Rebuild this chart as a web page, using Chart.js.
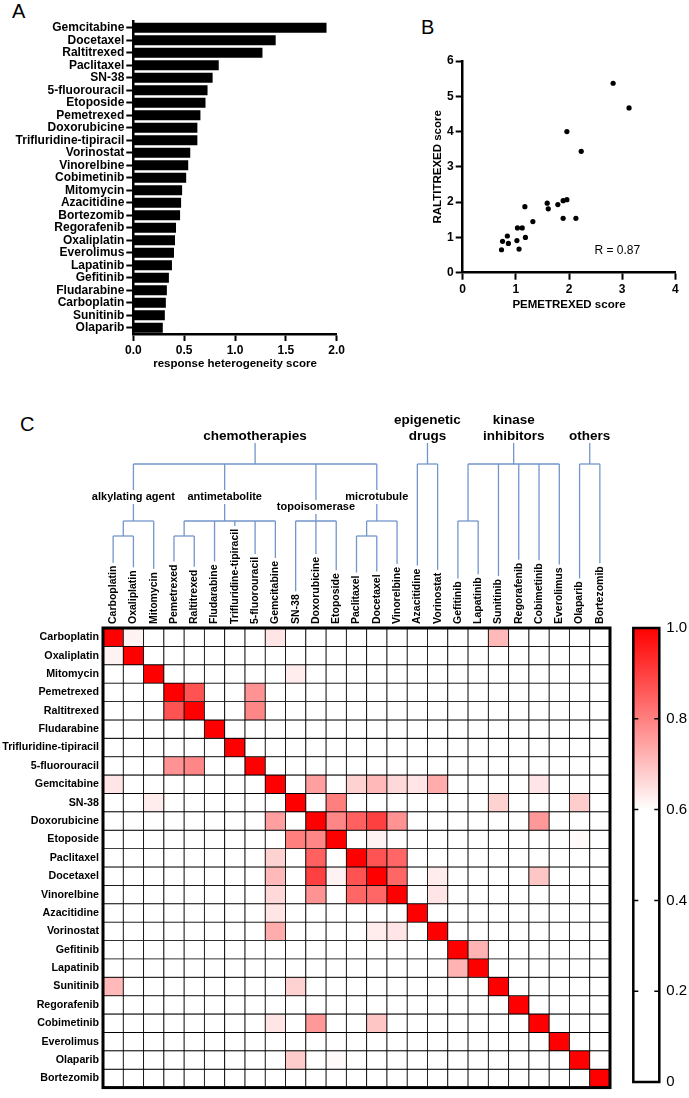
<!DOCTYPE html>
<html>
<head>
<meta charset="utf-8">
<script src="https://cdn.jsdelivr.net/npm/chart.js@4.4.1/dist/chart.umd.min.js"></script>
<style>
  body { margin: 0; background: #fff; }
  #page { position: relative; width: 689px; height: 1098px; overflow: hidden; font-family: "Liberation Sans", Arial, sans-serif; }
  canvas { position: absolute; }
  .letter { position: absolute; font-size: 20px; line-height: 20px; color: #000; }
</style>
</head>
<body>
<div id="page">
  <div class="letter" style="left:12px;top:1px">A</div>
  <div class="letter" style="left:421px;top:17px">B</div>
  <div class="letter" style="left:20px;top:414px">C</div>
  <canvas id="bars" width="360" height="380" style="left:0;top:0"></canvas>
  <canvas id="scatter" width="309" height="330" style="left:380px;top:0"></canvas>
  <canvas id="heat" width="689" height="718" style="left:0;top:380px"></canvas>
  <canvas id="cbar" width="89" height="498" style="left:600px;top:600px"></canvas>
</div>
<script>
// A : score d'hétérogénéité par drogue
const barDrugs = ['Gemcitabine', 'Docetaxel', 'Raltitrexed', 'Paclitaxel', 'SN-38', '5-fluorouracil',
  'Etoposide', 'Pemetrexed', 'Doxorubicine', 'Trifluridine-tipiracil', 'Vorinostat', 'Vinorelbine',
  'Cobimetinib', 'Mitomycin', 'Azacitidine', 'Bortezomib', 'Regorafenib', 'Oxaliplatin', 'Everolimus',
  'Lapatinib', 'Gefitinib', 'Fludarabine', 'Carboplatin', 'Sunitinib', 'Olaparib'];
const barScores = [1.90, 1.40, 1.27, 0.84, 0.78, 0.73, 0.71, 0.66, 0.63, 0.63, 0.56, 0.54,
  0.52, 0.48, 0.47, 0.46, 0.42, 0.41, 0.40, 0.38, 0.35, 0.33, 0.32, 0.31, 0.29];

// B : pemetrexed vs raltitrexed
const pemetrexedScores = [2.83, 3.13, 1.96, 2.23, 1.96, 1.89, 1.79, 1.59, 1.61, 1.89, 2.13,
  1.17, 1.32, 1.03, 1.12, 1.18, 1.02, 0.84, 0.75, 0.86, 0.73, 1.06];
const raltitrexedScores = [5.37, 4.67, 4.00, 3.44, 2.07, 2.04, 1.93, 1.97, 1.81, 1.54, 1.54,
  1.87, 1.45, 1.27, 1.27, 1.00, 0.91, 1.04, 0.89, 0.83, 0.65, 0.67];
const rLabel = 'R = 0.87';

// C : matrice de corrélation
const heatDrugs = ['Carboplatin', 'Oxaliplatin', 'Mitomycin', 'Pemetrexed', 'Raltitrexed', 'Fludarabine',
  'Trifluridine-tipiracil', '5-fluorouracil', 'Gemcitabine', 'SN-38', 'Doxorubicine', 'Etoposide',
  'Paclitaxel', 'Docetaxel', 'Vinorelbine', 'Azacitidine', 'Vorinostat', 'Gefitinib', 'Lapatinib',
  'Sunitinib', 'Regorafenib', 'Cobimetinib', 'Everolimus', 'Olaparib', 'Bortezomib'];
// paires au-dessus de 0.6 (le reste est blanc), diagonale = 1
const corrPairs = [
  ['Carboplatin', 'Oxaliplatin', 0.62], ['Carboplatin', 'Gemcitabine', 0.64], ['Carboplatin', 'Sunitinib', 0.71],
  ['Mitomycin', 'SN-38', 0.63],
  ['Pemetrexed', 'Raltitrexed', 0.87], ['Pemetrexed', '5-fluorouracil', 0.77], ['Raltitrexed', '5-fluorouracil', 0.79],
  ['Gemcitabine', 'Doxorubicine', 0.75], ['Gemcitabine', 'Paclitaxel', 0.67], ['Gemcitabine', 'Docetaxel', 0.71],
  ['Gemcitabine', 'Vinorelbine', 0.66], ['Gemcitabine', 'Azacitidine', 0.64], ['Gemcitabine', 'Vorinostat', 0.73],
  ['Gemcitabine', 'Cobimetinib', 0.64],
  ['SN-38', 'Etoposide', 0.80], ['SN-38', 'Sunitinib', 0.67], ['SN-38', 'Olaparib', 0.68],
  ['Doxorubicine', 'Etoposide', 0.79], ['Doxorubicine', 'Paclitaxel', 0.85], ['Doxorubicine', 'Docetaxel', 0.90],
  ['Doxorubicine', 'Vinorelbine', 0.77], ['Doxorubicine', 'Cobimetinib', 0.76],
  ['Etoposide', 'Docetaxel', 0.62], ['Etoposide', 'Olaparib', 0.61],
  ['Paclitaxel', 'Docetaxel', 0.87], ['Paclitaxel', 'Vinorelbine', 0.84], ['Docetaxel', 'Vinorelbine', 0.84],
  ['Docetaxel', 'Vorinostat', 0.63], ['Docetaxel', 'Cobimetinib', 0.69], ['Vinorelbine', 'Vorinostat', 0.64],
  ['Gefitinib', 'Lapatinib', 0.72],
];
const colorTicks = [0, 0.2, 0.4, 0.6, 0.8, 1];
const colorFloor = 0.6;

// classes de drogues (dendrogramme)
const drugClasses = [
  { name: ['chemotherapies'], children: [
    { name: ['alkylating agent'], children: [['Carboplatin', 'Oxaliplatin'], 'Mitomycin'] },
    { name: ['antimetabolite'], children: [['Pemetrexed', 'Raltitrexed'], 'Fludarabine', 'Trifluridine-tipiracil', '5-fluorouracil', 'Gemcitabine'] },
    { name: ['topoisomerase'], children: ['SN-38', 'Doxorubicine', 'Etoposide'] },
    { name: ['microtubule'], children: [['Paclitaxel', 'Docetaxel'], 'Vinorelbine'] },
  ] },
  { name: ['epigenetic', 'drugs'], children: ['Azacitidine', 'Vorinostat'] },
  { name: ['kinase', 'inhibitors'], children: [['Gefitinib', 'Lapatinib'], 'Sunitinib', 'Regorafenib', 'Cobimetinib', 'Everolimus'] },
  { name: ['others'], children: ['Olaparib', 'Bortezomib'] },
];
// mise en page du dendrogramme (px au-dessus de la matrice)
const levelOffset = [-164, -107, -92];
const topLabelOffset = -192;
const subLabelAt = { 'alkylating agent': 1, 'antimetabolite': 5.5, 'topoisomerase': 10, 'microtubule': 13 };
const subLabelOffset = { 'topoisomerase': -121 };

const FONT = '"Liberation Sans", Arial, sans-serif';
Chart.defaults.font.family = FONT;
Chart.defaults.color = '#000';
Chart.defaults.animation = false;
Chart.defaults.plugins.legend.display = false;
Chart.defaults.plugins.tooltip.enabled = false;

const axisLine = { display: true, color: '#000', width: 2.5 };
const tickMarks = { display: true, drawOnChartArea: false, drawTicks: true, tickLength: 7, tickWidth: 2, tickColor: '#000', offset: false };
const noGrid = { display: false, drawTicks: false, tickLength: 0 };
const boldFont = size => ({ size: size, weight: 'bold' });

// ---- A
new Chart(document.getElementById('bars'), {
  type: 'bar',
  data: { labels: barDrugs, datasets: [{ data: barScores, backgroundColor: '#000', barPercentage: 0.8, categoryPercentage: 1 }] },
  options: {
    responsive: false,
    indexAxis: 'y',
    layout: { padding: { top: 21.5, right: 23.3, bottom: 9, left: 0 } },
    scales: {
      x: {
        min: 0, max: 2, border: axisLine, grid: tickMarks,
        ticks: { stepSize: 0.5, padding: 2, font: boldFont(12), callback: v => v.toFixed(1) },
        title: { display: true, text: 'response heterogeneity score', font: boldFont(11.5), padding: 0 },
        afterFit: s => { s.height = 37; }
      },
      y: {
        border: axisLine, grid: tickMarks,
        ticks: { autoSkip: false, padding: 2, font: boldFont(12) },
        afterFit: s => { s.width = 133.3; }
      }
    }
  }
});

// ---- B
const rText = {
  id: 'rText',
  afterDraw(chart) {
    const { ctx, scales: { x, y } } = chart;
    ctx.save();
    ctx.font = '12px ' + FONT;
    ctx.fillStyle = '#000';
    ctx.textAlign = 'center';
    ctx.textBaseline = 'middle';
    ctx.fillText(rLabel, x.getPixelForValue(2.91), y.getPixelForValue(0.62));
    ctx.restore();
  }
};
new Chart(document.getElementById('scatter'), {
  type: 'scatter',
  data: { datasets: [{ data: pemetrexedScores.map((v, i) => ({ x: v, y: raltitrexedScores[i] })), backgroundColor: '#000', borderWidth: 0, pointRadius: 2.6 }] },
  options: {
    responsive: false,
    layout: { padding: { top: 61, right: 13.7, bottom: 18, left: 51.1 } },
    scales: {
      x: {
        min: 0, max: 4, border: axisLine, grid: tickMarks,
        ticks: { stepSize: 1, padding: 3, font: boldFont(12) },
        title: { display: true, text: 'PEMETREXED score', font: boldFont(11.5), padding: 0 },
        afterFit: s => { s.height = 39.3; }
      },
      y: {
        min: 0, max: 6, border: axisLine, grid: tickMarks,
        ticks: { stepSize: 1, padding: 2, font: boldFont(12) },
        title: { display: true, text: 'RALTITREXED score', font: boldFont(11.5), padding: 0 },
        afterFit: s => { s.width = 31.6; }
      }
    }
  },
  plugins: [rText]
});

// ---- C
const corr = heatDrugs.map((a, i) => heatDrugs.map((b, j) => (i === j ? 1 : 0)));
corrPairs.forEach(([a, b, v]) => {
  const i = heatDrugs.indexOf(a), j = heatDrugs.indexOf(b);
  corr[i][j] = v;
  corr[j][i] = v;
});
function cellColor(v) {
  const t = Math.max(0, Math.min(1, (v - colorFloor) / (1 - colorFloor)));
  const gb = Math.round(255 * (1 - t));
  return 'rgb(255,' + gb + ',' + gb + ')';
}

const colFontSize = 10.5;
const colPadding = 4;

const heatExtras = {
  id: 'heatExtras',
  afterDatasetsDraw(chart) {
    const { ctx, chartArea: a } = chart;
    ctx.save();
    ctx.strokeStyle = '#000';
    ctx.lineWidth = 3;
    ctx.strokeRect(a.left, a.top, a.right - a.left, a.bottom - a.top);
    ctx.restore();
  },
  afterDraw(chart) {
    const { ctx, chartArea, scales: { x } } = chart;
    const top = chartArea.top;
    const leafFont = 'bold ' + colFontSize + 'px ' + FONT;
    ctx.save();
    ctx.strokeStyle = '#7395cc';
    ctx.lineWidth = 1.3;
    ctx.fillStyle = '#000';
    ctx.textAlign = 'center';
    ctx.textBaseline = 'middle';
    const line = (x1, y1, x2, y2) => { ctx.beginPath(); ctx.moveTo(x1, y1); ctx.lineTo(x2, y2); ctx.stroke(); };
    const leafTop = name => { ctx.font = leafFont; return top - colPadding - ctx.measureText(name).width - 3; };
    const kidsOf = n => (Array.isArray(n) ? n : n.children);
    const anchor = n => {
      if (typeof n === 'string') return x.getPixelForValue(heatDrugs.indexOf(n));
      if (!Array.isArray(n) && subLabelAt[n.name[0]] !== undefined) return x.getPixelForValue(subLabelAt[n.name[0]]);
      const xs = kidsOf(n).map(anchor);
      return (Math.min(...xs) + Math.max(...xs)) / 2;
    };
    const draw = (n, depth, fromY) => {
      const ax = anchor(n);
      if (typeof n === 'string') { line(ax, fromY, ax, leafTop(n)); return; }
      const y = top + levelOffset[depth];
      if (!Array.isArray(n)) {
        if (depth === 0) {
          ctx.font = 'bold 13.5px ' + FONT;
          n.name.forEach((t, i) => ctx.fillText(t, ax, top + topLabelOffset - (n.name.length - 1 - i) * 16));
          line(ax, top + topLabelOffset + 7, ax, y);
        } else {
          ctx.font = 'bold 11px ' + FONT;
          const ly = top + (subLabelOffset[n.name[0]] ?? -131);
          ctx.fillText(n.name[0], ax, ly);
          line(ax, fromY, ax, ly - 7);
          line(ax, ly + 7, ax, y);
        }
      } else {
        line(ax, fromY, ax, y);
      }
      const xs = kidsOf(n).map(anchor);
      line(Math.min(...xs), y, Math.max(...xs), y);
      kidsOf(n).forEach(k => draw(k, depth + 1, y));
    };
    drugClasses.forEach(c => draw(c, 0, null));
    ctx.restore();
  }
};

new Chart(document.getElementById('heat'), {
  type: 'bar',
  data: {
    labels: heatDrugs,
    datasets: heatDrugs.map((rowName, r) => ({
      label: rowName,
      data: heatDrugs.map(() => [r, r + 1]),
      backgroundColor: heatDrugs.map((c, j) => cellColor(corr[r][j])),
      borderColor: '#000',
      borderWidth: 0.8,
      borderSkipped: false,
      grouped: false,
      barPercentage: 1,
      categoryPercentage: 1
    }))
  },
  options: {
    responsive: false,
    layout: { padding: { top: 0, right: 79, bottom: 6, left: 0 } },
    scales: {
      x: {
        position: 'top', grid: noGrid, border: { display: false },
        ticks: { autoSkip: false, minRotation: 90, maxRotation: 90, padding: colPadding, labelOffset: colFontSize * 1.2, font: boldFont(colFontSize) },
        afterFit: s => { s.height = 248; }
      },
      y: {
        min: 0, max: heatDrugs.length, reverse: true,
        grid: noGrid, border: { display: false },
        afterBuildTicks: s => { s.ticks = heatDrugs.map((d, i) => ({ value: i + 0.5 })); },
        ticks: { autoSkip: false, padding: 4, font: boldFont(10.7), callback: v => heatDrugs[Math.floor(v)] },
        afterFit: s => { s.width = 103; }
      }
    }
  },
  plugins: [heatExtras]
});

// ---- barre de couleurs
const cbarFrame = {
  id: 'cbarFrame',
  afterDraw(chart) {
    const { ctx, chartArea: a, scales: { y } } = chart;
    ctx.save();
    ctx.strokeStyle = '#000';
    ctx.lineWidth = 2.5;
    ctx.strokeRect(a.left, a.top, a.right - a.left, a.bottom - a.top);
    ctx.lineWidth = 1.5;
    colorTicks.slice(1, -1).forEach(v => {
      const py = y.getPixelForValue(v);
      ctx.beginPath();
      ctx.moveTo(a.left, py); ctx.lineTo(a.left + 5, py);
      ctx.moveTo(a.right - 5, py); ctx.lineTo(a.right, py);
      ctx.stroke();
    });
    ctx.restore();
  }
};
new Chart(document.getElementById('cbar'), {
  type: 'bar',
  data: {
    labels: [''],
    datasets: [{
      data: [[0, 1]],
      barPercentage: 1, categoryPercentage: 1, borderWidth: 0,
      backgroundColor: c => {
        const chart = c.chart;
        if (!chart.chartArea) return '#fff';
        const ys = chart.scales.y;
        const g = chart.ctx.createLinearGradient(0, ys.getPixelForValue(0), 0, ys.getPixelForValue(1));
        g.addColorStop(0, '#fff');
        g.addColorStop(colorFloor, '#fff');
        g.addColorStop(1, '#ff0000');
        return g;
      }
    }]
  },
  options: {
    responsive: false,
    layout: { padding: { top: 28, right: 0, bottom: 6, left: 33.3 } },
    scales: {
      x: { display: false },
      y: {
        position: 'right', min: 0, max: 1,
        grid: noGrid, border: { display: false },
        afterBuildTicks: s => { s.ticks = colorTicks.map(v => ({ value: v })); },
        ticks: { padding: 7, font: { size: 15 }, callback: v => (v === 0 ? '0' : v.toFixed(1)) },
        afterFit: s => { s.width = 29.7; }
      }
    }
  },
  plugins: [cbarFrame]
});
</script>
</body>
</html>
